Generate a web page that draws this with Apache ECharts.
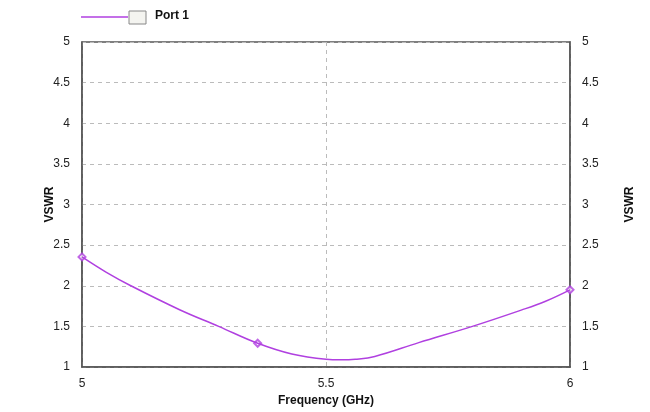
<!DOCTYPE html>
<html>
<head>
<meta charset="utf-8">
<script src="https://cdn.jsdelivr.net/npm/echarts@6/dist/echarts.min.js"></script>
<style>html,body{margin:0;padding:0;background:#fff}#c{width:650px;height:412px}</style>
</head>
<body>
<div id="c"></div>
<script>
var freqs = [5.00, 5.05, 5.10, 5.20, 5.28, 5.36, 5.43, 5.50, 5.53, 5.56, 5.60, 5.69, 5.80, 5.90, 5.95, 6.00];
var vswr  = [2.355, 2.165, 2.00, 1.705, 1.50, 1.292, 1.16, 1.095, 1.088, 1.095, 1.13, 1.30, 1.50, 1.70, 1.81, 1.95];
var markerFreqs = [5.00, 5.36, 6.00];
var markerVswr  = [2.355, 1.292, 1.95];
var yTicks = ['1','1.5','2','2.5','3','3.5','4','4.5','5'];
var seriesName = 'Port 1';

var lineData = freqs.map(function(f,i){return [f, vswr[i]];});
var markData = markerFreqs.map(function(f,i){return [f, markerVswr[i]];});
var col = '#b040e0';
var font = '"Liberation Sans", Arial, sans-serif';

var chart = echarts.init(document.getElementById('c'), null, {renderer:'canvas'});
var yAxisBase = {
  type:'value', min:1, max:5, interval:0.5,
  axisLine:{show:true, lineStyle:{color:'#555', width:1.5}},
  axisTick:{show:false},
  name:'VSWR', nameLocation:'middle', nameRotate:90, nameMoveOverlap:false,
  nameTextStyle:{fontFamily:font, fontWeight:'bold', fontSize:12, color:'#111'},
  axisLabel:{fontFamily:font, fontSize:12, color:'#222', margin:12,
    formatter:function(v){var s=String(Math.round(v*10)/10); return yTicks.indexOf(s)>=0?s:'';}}
};
chart.setOption({
  animation:false,
  grid:{left:82, right:80, top:42, bottom:41, show:true, borderColor:'#555', borderWidth:1.5},
  xAxis:{
    type:'value', min:5, max:6, interval:0.5,
    name:'Frequency (GHz)', nameLocation:'middle', nameGap:28,
    nameTextStyle:{fontFamily:font, fontWeight:'bold', fontSize:12, color:'#111'},
    axisLine:{show:true, lineStyle:{color:'#555', width:1.5}},
    axisTick:{show:false},
    axisLabel:{fontFamily:font, fontSize:12, color:'#222', margin:11},
    splitLine:{show:true, lineStyle:{color:'#bbb', type:[4,4], width:1}}
  },
  yAxis:[
    Object.assign({}, yAxisBase, {position:'left', nameGap:26,
      splitLine:{show:true, lineStyle:{color:'#bbb', type:[4,4], width:1}}}),
    Object.assign({}, yAxisBase, {position:'right', nameGap:54, splitLine:{show:false}})
  ],
  series:[
    {name:seriesName, type:'line', data:lineData, smooth:0.4, showSymbol:false,
     lineStyle:{color:col, width:1.5}, itemStyle:{color:col}},
    {name:seriesName, type:'scatter', data:markData, symbol:'emptyDiamond', symbolSize:7,
     itemStyle:{color:col, borderColor:col, borderWidth:1}}
  ],
  graphic:[
    {type:'line', shape:{x1:81, y1:17, x2:128, y2:17}, style:{stroke:col, lineWidth:1.5}},
    {type:'rect', shape:{x:129, y:11, width:17, height:13}, style:{fill:'#f4f4f0', stroke:'#888', lineWidth:1}},
    {type:'text', left:155, top:10, style:{text:seriesName, font:'bold 12px '+font, fill:'#111'}}
  ]
});
</script>
</body>
</html>
